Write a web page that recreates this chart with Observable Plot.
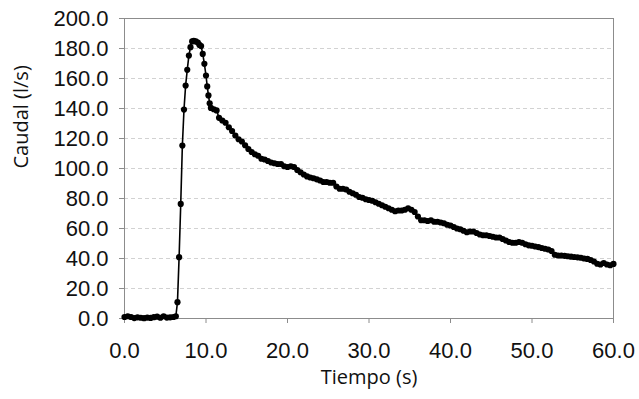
<!DOCTYPE html>
<html><head><meta charset="utf-8">
<script src="https://cdn.jsdelivr.net/npm/d3@7"></script>
<script src="https://cdn.jsdelivr.net/npm/@observablehq/plot@0.6"></script>
<style>html,body{margin:0;padding:0;background:#fff}</style>
</head><body><div id="chart"></div>
<script>
const tiempo = [
  0.0,0.4,0.8,1.2,1.6,2.0,2.4,2.8,3.2,3.6,
  4.0,4.4,4.8,5.2,5.6,6.0,6.3,
  6.5,6.7,6.9,7.1,7.3,7.5,7.7,7.9,8.1,8.3,
  8.5,8.75,9.0,9.2,9.4,9.6,9.8,10.0,10.15,10.3,
  10.45,10.6,10.95,11.3,11.6,
  12.0,12.4,12.8,13.2,13.6,14.0,14.4,14.8,15.2,15.6,
  16.0,16.4,16.8,17.2,17.6,18.0,18.4,18.8,19.2,19.6,
  20.0,20.4,20.8,21.2,21.6,22.0,22.4,22.8,23.2,23.6,
  24.0,24.4,24.8,25.2,25.6,26.0,26.4,26.8,27.2,27.6,
  28.0,28.4,28.8,29.2,29.6,30.0,30.4,30.8,31.2,31.6,
  32.0,32.4,32.8,33.2,33.6,34.0,34.4,34.8,35.2,35.6,
  36.0,36.4,36.8,37.2,37.6,38.0,38.4,38.8,39.2,39.6,
  40.0,40.4,40.8,41.2,41.6,42.0,42.4,42.8,43.2,43.6,
  44.0,44.4,44.8,45.2,45.6,46.0,46.4,46.8,47.2,47.6,
  48.0,48.4,48.8,49.2,49.6,50.0,50.4,50.8,51.2,51.6,
  52.0,52.4,52.8,53.2,53.6,54.0,54.4,54.8,55.2,55.6,
  56.0,56.4,56.8,57.2,57.6,58.0,58.4,58.8,59.2,59.6,
  60.0
];
const caudal = [
  1.0,1.5,1.0,0.3,0.8,0.5,0.2,0.6,0.4,0.9,
  1.2,0.5,1.5,0.6,0.8,1.0,1.5,
  10.9,40.9,76.4,115.3,139.3,155.3,165.8,175.3,180.9,184.7,
  185.1,184.7,184.0,182.4,181.6,176.4,169.8,162.0,154.7,148.7,
  143.5,140.4,139.5,138.7,133.8,
  132.0,130.5,127.5,125.0,122.0,119.5,118.0,115.5,113.0,111.0,
  109.5,108.5,106.5,106.0,105.0,104.0,103.5,103.0,103.0,101.5,
  101.0,101.5,101.0,99.0,97.5,96.0,94.7,94.0,93.5,92.8,
  92.0,91.0,91.0,90.5,90.5,88.0,86.5,86.5,86.0,84.5,
  83.5,82.5,81.0,80.5,79.5,79.0,78.5,77.5,76.5,75.5,
  74.5,73.5,72.5,71.5,72.0,72.0,72.5,73.5,72.5,71.0,
  68.0,65.5,65.5,65.0,65.5,64.5,64.5,64.0,63.5,62.5,
  62.0,61.0,60.0,59.5,58.5,57.5,58.0,58.0,57.0,56.0,
  55.5,55.5,55.0,54.5,54.0,54.0,53.0,52.0,51.0,50.5,
  50.5,51.0,50.5,49.5,48.8,48.5,48.0,47.6,47.0,46.5,
  46.0,45.0,42.5,42.0,42.0,41.8,41.5,41.2,41.0,40.8,
  40.5,40.0,39.7,39.0,38.0,36.5,36.0,37.0,36.0,35.5,
  36.4
];
const xTicks = [0, 10, 20, 30, 40, 50, 60];
const yTicks = [0, 20, 40, 60, 80, 100, 120, 140, 160, 180, 200];
const gridValues = [20, 40, 60, 80, 100, 120, 140, 160, 180];
const xTitle = "Tiempo (s)";
const yTitle = "Caudal (l/s)";

const data = tiempo.map((t, i) => ({t, q: caudal[i]}));
const fmt = d => d.toFixed(1);

const chart = Plot.plot({
  width: 639, height: 399,
  marginLeft: 124, marginRight: 26, marginTop: 18, marginBottom: 81,
  style: {fontFamily: "'Liberation Sans', Arial, sans-serif", fontSize: "22px", background: "#fff", color: "#111"},
  x: {domain: [0, 60]},
  y: {domain: [0, 200]},
  marks: [
    Plot.gridY(gridValues, {stroke: "#d2d2d2", strokeOpacity: 1, strokeDasharray: "4,3"}),
    Plot.frame({stroke: "#8c8c8c"}),
    Plot.axisX({ticks: xTicks, tickFormat: fmt, tickSize: 5, tickPadding: 19, stroke: "#8c8c8c", fill: "#111", label: null, fontSize: 22}),
    Plot.axisY({ticks: yTicks, tickFormat: fmt, tickSize: 5, tickPadding: 11, stroke: "#8c8c8c", fill: "#111", label: null, fontSize: 22}),
    Plot.line(data, {x: "t", y: "q", stroke: "#000", strokeWidth: 1.6}),
    Plot.dot(data, {x: "t", y: "q", r: 3.1, fill: "#000", stroke: "none"}),
    Plot.text([xTitle], {frameAnchor: "bottom", dy: 65, fontFamily: "'Open Sans', sans-serif", fontSize: 20, fill: "#111"}),
    Plot.text([yTitle], {frameAnchor: "left", dx: -103, rotate: -90, fontFamily: "'Open Sans', sans-serif", fontSize: 20, fill: "#111"})
  ]
});
document.getElementById("chart").appendChild(chart);
</script>
</body></html>
